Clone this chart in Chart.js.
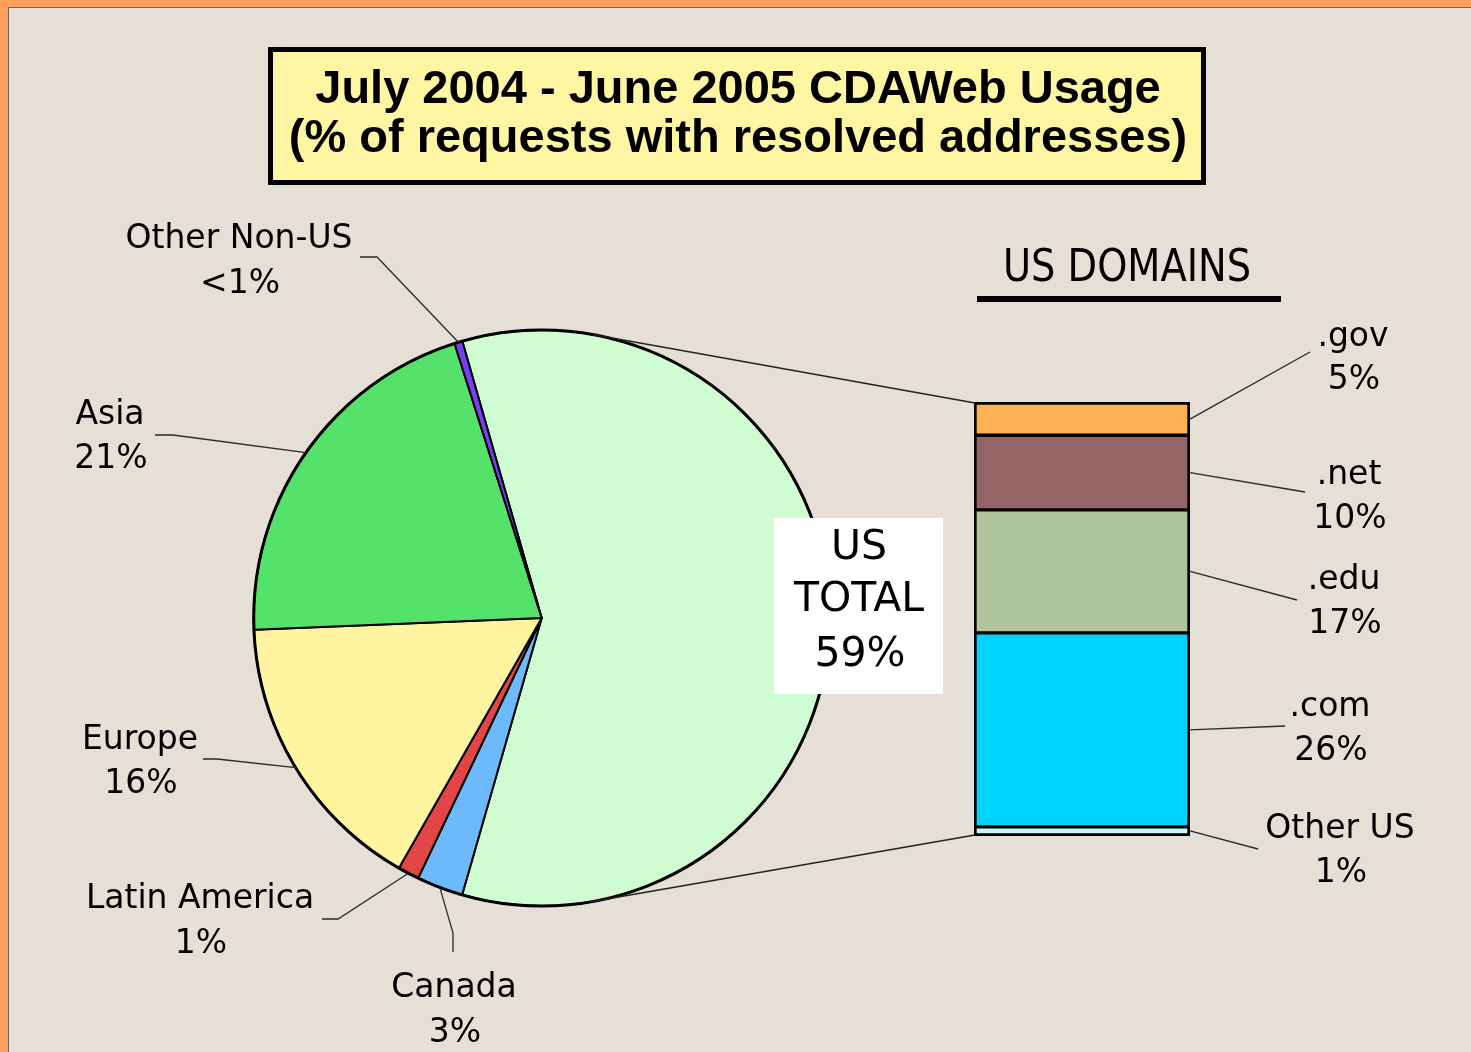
<!DOCTYPE html>
<html>
<head>
    <title>CDAWeb Usage July 2004 - June 2005</title>
    <script src="https://cdn.jsdelivr.net/npm/chart.js"></script>
    <style>
        body { margin: 0; background: #ff9f5e; overflow: hidden; }
        #frame { position: absolute; left: 0; top: 0; width: 1471px; height: 1052px; }
        #panel { position: absolute; left: 8px; top: 7px; right: 0; bottom: 0;
                 background: #e6dfd5; border-top: 1px solid #6b6560; border-left: 1px solid #6b6560; }
        canvas { position: absolute; left: 0; top: 0; }
    </style>
</head>
<body>
    <div id="frame">
        <div id="panel"></div>
        <canvas id="pieChart" width="1471" height="1052"></canvas>
        <canvas id="barChart" width="1471" height="1052"></canvas>
    </div>

    <script>
        // Pie slices, clockwise starting at the upper edge of the US slice
        const regions = ['US', 'Canada', 'Latin America', 'Europe', 'Asia', 'Other Non-US'];
        const regionShares = [58.9, 2.6, 1.2, 16.1, 20.75, 0.45];
        const regionPct = ['59%', '3%', '1%', '16%', '21%', '<1%'];
        const regionColors = ['#cffcd1', '#6cb9fb', '#e24545', '#fff49f', '#55e26b', '#7a3ef4'];

        // US domains bar, bottom to top
        const domains = ['Other US', '.com', '.edu', '.net', '.gov'];
        const domainShares = [1.1, 26.5, 16.8, 10.2, 4.4];
        const domainPct = ['1%', '26%', '17%', '10%', '5%'];
        const domainColors = ['#c8f8fc', '#00d3ff', '#afc49c', '#946466', '#fdb256'];

        const titleLines = ['July 2004 - June 2005 CDAWeb Usage', '(% of requests with resolved addresses)'];

        // label placement: centre x, two baselines, leader elbow and leader end
        const pieLabelLayout = [
            null,
            { x: 454, y: [997, 1042], elbow: [453, 933], end: [453, 952] },
            { x: 200, y: [908, 953], elbow: [338, 919], end: [322, 919] },
            { x: 140, y: [749, 793], elbow: [217, 759], end: [203, 759] },
            { x: 110, y: [424, 468], elbow: [173, 435], end: [155, 435] },
            { x: 239, y: [248, 293], elbow: [377, 257], end: [360, 257] }
        ];
        const barLabelLayout = [
            { x: 1340, y: [838, 882], end: [1258, 849] },
            { x: 1330, y: [716, 760], end: [1285, 726] },
            { x: 1344, y: [589, 633], end: [1297, 600] },
            { x: 1349, y: [484, 528], end: [1305, 492] },
            { x: 1353, y: [346, 389], end: [1310, 352] }
        ];

        const labelFont = '33px "DejaVu Sans"';
        let pieChart;

        function tangentPoint(cx, cy, r, px, py, side) {
            const d = Math.hypot(px - cx, py - cy);
            const a = Math.acos(r / d);
            const base = Math.atan2(py - cy, px - cx);
            const t = base + side * a;
            return [cx + r * Math.cos(t), cy + r * Math.sin(t)];
        }

        function line(ctx, pts) {
            ctx.beginPath();
            ctx.moveTo(pts[0][0], pts[0][1]);
            for (let i = 1; i < pts.length; i++) ctx.lineTo(pts[i][0], pts[i][1]);
            ctx.stroke();
        }

        const overlay = {
            id: 'overlay',
            afterDraw(chart) {
                const ctx = chart.ctx;
                const arcs = pieChart.getDatasetMeta(0).data;
                const bars = chart.data.datasets.map((d, i) => chart.getDatasetMeta(i).data[0]);
                ctx.save();

                // title box
                ctx.fillStyle = '#fff6a3';
                ctx.fillRect(268, 47, 938, 138);
                ctx.lineWidth = 5;
                ctx.strokeStyle = '#000';
                ctx.strokeRect(270.5, 49.5, 933, 133);
                ctx.fillStyle = '#000';
                ctx.textAlign = 'center';
                ctx.textBaseline = 'alphabetic';
                ctx.font = 'bold 47px "Liberation Sans", Arial, sans-serif';
                ctx.fillText(titleLines[0], 738, 103);
                ctx.fillText(titleLines[1], 738, 152);

                // heavier outline round the pie and the bar
                const pie = arcs[0];
                ctx.lineWidth = 3;
                ctx.beginPath();
                ctx.arc(pie.x, pie.y, pie.outerRadius, 0, Math.PI * 2);
                ctx.stroke();
                const left = bars[0].x - bars[0].width / 2;
                const right = bars[0].x + bars[0].width / 2;
                const top = bars[bars.length - 1].y;
                const bottom = bars[0].base;
                ctx.lineWidth = 2;
                ctx.strokeRect(left, top, right - left, bottom - top);

                // connector lines from the US slice to the domain bar
                ctx.lineWidth = 1.4;
                ctx.strokeStyle = '#222';
                line(ctx, [[left, top], tangentPoint(pie.x, pie.y, pie.outerRadius, left, top, -1)]);
                line(ctx, [[left, bottom], tangentPoint(pie.x, pie.y, pie.outerRadius, left, bottom, 1)]);

                // pie leaders and labels
                ctx.lineWidth = 1.3;
                ctx.strokeStyle = '#2a2a2a';
                ctx.font = labelFont;
                arcs.forEach((arc, i) => {
                    const lay = pieLabelLayout[i];
                    if (!lay) return;
                    const mid = (arc.startAngle + arc.endAngle) / 2;
                    const rim = [arc.x + Math.cos(mid) * arc.outerRadius, arc.y + Math.sin(mid) * arc.outerRadius];
                    line(ctx, [rim, lay.elbow, lay.end]);
                    ctx.fillText(regions[i], lay.x, lay.y[0]);
                    ctx.fillText(regionPct[i], lay.x + 1, lay.y[1]);
                });

                // US total box
                ctx.fillStyle = '#fff';
                ctx.fillRect(774, 518, 169, 176);
                ctx.fillStyle = '#000';
                ctx.font = '41px "DejaVu Sans"';
                ctx.fillText('US', 859, 559);
                ctx.fillText('TOTAL', 859, 611);
                ctx.fillText(regionPct[0], 860, 666);

                // bar leaders and labels
                ctx.font = labelFont;
                bars.forEach((bar, i) => {
                    const lay = barLabelLayout[i];
                    const midY = (bar.y + bar.base) / 2;
                    line(ctx, [[right + 1, midY], lay.end]);
                    ctx.fillText(domains[i], lay.x, lay.y[0]);
                    ctx.fillText(domainPct[i], lay.x + 1, lay.y[1]);
                });

                // US DOMAINS heading
                ctx.font = '44px "DejaVu Sans"';
                const w = ctx.measureText('US DOMAINS').width;
                ctx.save();
                ctx.translate(1127, 281);
                ctx.scale(248 / w, 1);
                ctx.fillText('US DOMAINS', 0, 0);
                ctx.restore();
                ctx.fillRect(977, 296, 304, 6);

                ctx.restore();
            }
        };

        pieChart = new Chart(document.getElementById('pieChart'), {
            type: 'pie',
            data: {
                labels: regions,
                datasets: [{
                    data: regionShares,
                    backgroundColor: regionColors,
                    borderColor: '#000',
                    borderWidth: 2
                }]
            },
            options: {
                responsive: false,
                animation: false,
                devicePixelRatio: 1,
                events: [],
                rotation: -16,
                radius: 288,
                layout: { padding: { left: 241.7, right: 629.3, top: 318, bottom: 134 } },
                plugins: { legend: { display: false }, tooltip: { enabled: false } }
            }
        });

        new Chart(document.getElementById('barChart'), {
            type: 'bar',
            data: {
                labels: ['US'],
                datasets: domains.map((name, i) => ({
                    label: name,
                    data: [domainShares[i]],
                    backgroundColor: domainColors[i],
                    borderColor: '#000',
                    borderWidth: 2,
                    borderSkipped: false,
                    categoryPercentage: 1,
                    barPercentage: 1
                }))
            },
            options: {
                responsive: false,
                animation: false,
                devicePixelRatio: 1,
                events: [],
                layout: { padding: { left: 975, right: 282, top: 403, bottom: 217 } },
                scales: {
                    x: { display: false, stacked: true },
                    y: { display: false, stacked: true, min: 0, max: domainShares.reduce((a, b) => a + b, 0) }
                },
                plugins: { legend: { display: false }, tooltip: { enabled: false } }
            },
            plugins: [overlay]
        });
    </script>
</body>
</html>
